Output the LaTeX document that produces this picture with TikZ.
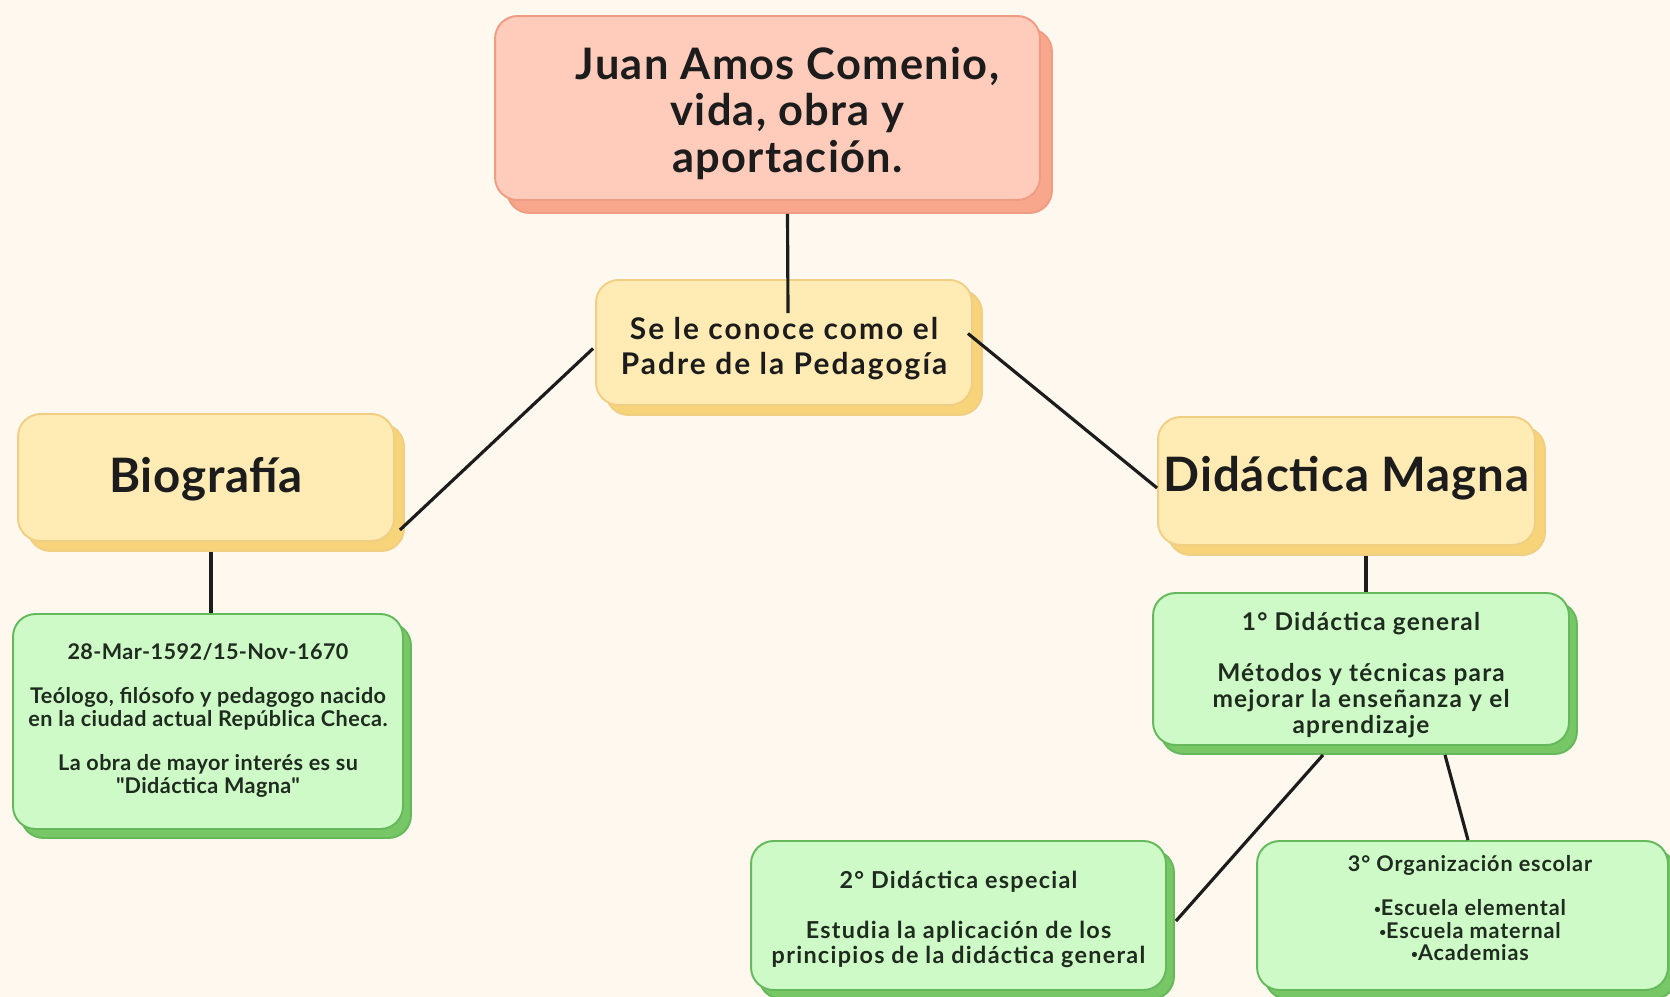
\documentclass[tikz,border=0pt]{standalone}
\usepackage{fontspec}
\setmainfont{Lato}
\usetikzlibrary{positioning,calc,shadows}

\definecolor{paper}{HTML}{FEF8EE}
\definecolor{titlefill}{HTML}{FFCBBA}
\definecolor{titleline}{HTML}{EE9C84}
\definecolor{titleshade}{HTML}{F8A78D}
\definecolor{sunfill}{HTML}{FFEBB3}
\definecolor{sunline}{HTML}{F0CF84}
\definecolor{sunshade}{HTML}{F7D47A}
\definecolor{leaffill}{HTML}{CDFAC6}
\definecolor{leafline}{HTML}{66B85C}
\definecolor{leafshade}{HTML}{77C766}
\definecolor{ink}{HTML}{1C1C1C}
\definecolor{leafink}{HTML}{1F2B1F}

% text block moved down by #1, box size kept
\newcommand{\lowered}[2]{\raisebox{-#1}[\height][\depth]{\begin{tabular}{@{}c@{}}#2\end{tabular}}}
\newcommand{\dotmark}{\raisebox{0.2ex}{\scalebox{0.55}{•}}}
\newcommand{\boxfont}[3]{\fontsize{#1}{#2}\selectfont\bfseries\addfontfeatures{LetterSpace=#3}}

\tikzset{
  box/.style={draw, rounded corners=0.45cm, line width=1.1pt, inner sep=0pt, text=ink},
  titlebox/.style={box, fill=titlefill, draw=titleline,
    drop shadow={shadow xshift=0.24cm, shadow yshift=-0.26cm, fill=titleshade, draw=titleline, opacity=1}},
  sunbox/.style={box, fill=sunfill, draw=sunline,
    drop shadow={shadow xshift=0.2cm, shadow yshift=-0.2cm, fill=sunshade, draw=sunline, opacity=1}},
  leafbox/.style={box, fill=leaffill, draw=leafline, text=leafink,
    drop shadow={shadow xshift=0.16cm, shadow yshift=-0.18cm, fill=leafshade, draw=leafline, opacity=1}},
  link/.style={line width=1.8pt, ink}
}

\begin{document}
\begin{tikzpicture}[x=0.02cm, y=-0.02cm]
  \useasboundingbox[fill=paper] (0,0) rectangle (1670,997);

  % title
  \node[titlebox, minimum width=10.9cm, minimum height=3.68cm,
        font=\boxfont{24.7}{26.6}{3}] (title) at (767.5,108)
    {\hspace*{0.8cm}\lowered{4.8pt}{Juan Amos Comenio,\\ vida, obra y\\ aportación.}};

  % middle branch
  \node[sunbox, minimum width=7.52cm, minimum height=2.5cm,
        font=\boxfont{17}{20}{7}] (known) at (784,342.5)
    {\lowered{4.3pt}{Se le conoce como el\\ Padre de la Pedagogía}};

  % left branch
  \node[sunbox, minimum width=7.52cm, minimum height=2.54cm,
        font=\boxfont{27}{30}{1.5}] (bio) at (206,477.5) {\lowered{2.3pt}{Biografía}};
  \node[leafbox, minimum width=7.8cm, minimum height=4.3cm,
        font=\boxfont{12.3}{13}{2}] (biotext) at (208,721.5)
    {\lowered{0pt}{28-Mar-1592/15-Nov-1670\\[12pt]
     Teólogo, filósofo y pedagogo nacido\\ en la ciudad actual República Checa.\\[12pt]
     La obra de mayor interés es su\\ \textquotedbl Didáctica Magna\textquotedbl}};

  % right branch
  \node[sunbox, minimum width=7.54cm, minimum height=2.56cm,
        font=\boxfont{27}{30}{2}] (magna) at (1346.5,481) {\lowered{0pt}{Didáctica Magna}};
  \node[leafbox, minimum width=8.32cm, minimum height=3.04cm,
        font=\boxfont{13.9}{14.7}{5}] (general) at (1361,669)
    {\lowered{4.4pt}{1° Didáctica general\\[14.7pt]
     Métodos y técnicas para\\ mejorar la enseñanza y el\\ aprendizaje}};
  \node[leafbox, minimum width=8.3cm, minimum height=2.98cm,
        font=\boxfont{13.3}{14.2}{5.5}] (especial) at (958.5,915.5)
    {\lowered{3pt}{2° Didáctica especial\\[14.2pt]
     Estudia la aplicación de los\\ principios de la didáctica general}};
  \node[leafbox, minimum width=8.22cm, minimum height=2.98cm,
        font=\boxfont{12.3}{12.5}{4}] (escolar) at (1462.5,915.5)
    {\hspace*{0.3cm}\lowered{-2.4pt}{3° Organización escolar\\[12.5pt]
     \dotmark Escuela elemental\\ \dotmark Escuela maternal\\ \dotmark Academias}};

  % connectors
  \draw[link] ($(title.south)+(20,13)$) -- ($(known.north)+(4,34)$);
  \draw[link] ($(known.west)+(-2,6)$) -- ($(bio.south east)+(5,-12)$);
  \draw[link] ($(known.east)+(-5,-9)$) -- ($(magna.west)+(0,7)$);
  \draw[link] ($(bio.south)+(5,10)$) -- ($(biotext.north)+(3,0)$);
  \draw[link] ($(magna.south)+(19.5,10)$) -- ($(general.north)+(5,0)$);
  \draw[link] ($(general.south)+(-38,9)$) -- ($(especial.east)+(9,5.5)$);
  \draw[link] ($(general.south)+(84,9)$) -- ($(escolar.north)+(5.5,0)$);
\end{tikzpicture}
\end{document}
